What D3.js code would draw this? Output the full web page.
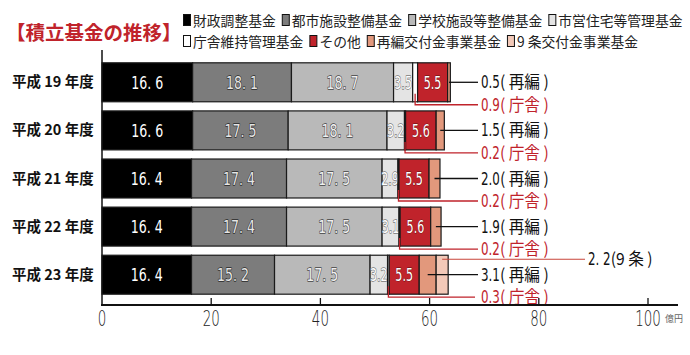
<!DOCTYPE html>
<html><head><meta charset="utf-8">
<script src="https://cdn.jsdelivr.net/npm/d3@7"></script>
<style>
body{margin:0;background:#fff;}
svg{display:block;}
.jp{font-family:"Noto Sans CJK JP","Noto Sans",sans-serif;}
.num{font-family:"DejaVu Sans","Liberation Sans",sans-serif;}
</style>
</head><body>
<script>
const years = ["平成 19 年度","平成 20 年度","平成 21 年度","平成 22 年度","平成 23 年度"];
const seriesNames = ["財政調整基金","都市施設整備基金","学校施設等整備基金","市営住宅等管理基金","庁舎維持管理基金","その他","再編交付金事業基金","9 条交付金事業基金"];
const zaisei = [16.6,16.6,16.4,16.4,16.4];
const toshi  = [18.1,17.5,17.4,17.4,15.2];
const gakko  = [18.7,18.1,17.5,17.5,17.5];
const shiei  = [3.5,3.2,2.9,3.1,3.2];
const chosha = [0.9,0.2,0.2,0.2,0.3];
const sonota = [5.5,5.6,5.5,5.6,5.5];
const saihen = [0.5,1.5,2.0,1.9,3.1];
const kyujo  = [0,0,0,0,2.2];
const xTicks = [0,20,40,60,80,100];

const series = [zaisei,toshi,gakko,shiei,chosha,sonota,saihen,kyujo];
const colors = ["#000000","#7c7c7c","#b9b9b9","#e4e4e4","#ffffff","#c0232b","#e2987c","#f3c9b8"];
const spaced = v=>v.toFixed(1).replace(".",". ");
const plain = v=>v.toFixed(1);
const labelFmt = [spaced,spaced,spaced,plain,null,plain,null,null];
const labelFill = ["#fff","#e6e6e6","#f0f0f0","#fff",null,"#fff",null,null];
const labelStroke = [null,"#2a2a2a","#444","#777",null,"#5a1010",null,null];

const W=690,H=355;
const svg = d3.select("body").append("svg").attr("width",W).attr("height",H);

const x = d3.scaleLinear().domain([0,100]).range([102,648]);
const y = d3.scaleBand().domain(years).range([58,299]).paddingInner(0.19).paddingOuter(0.1);

function cText(parent, tx, ty, str, opt){
  const g = parent.append("g").attr("transform",`translate(${tx},${ty}) scale(${opt.sx||1},1)`);
  const t = g.append("text").attr("class",opt.cls||"num").attr("x",0).attr("y",0)
    .attr("font-size",opt.size).attr("fill",opt.fill||"#111")
    .attr("text-anchor",opt.anchor||"start").text(str);
  if(opt.weight) t.attr("font-weight",opt.weight);
  if(opt.stroke) t.attr("stroke",opt.stroke).attr("stroke-width",opt.sw||1).attr("paint-order","stroke").attr("stroke-linejoin","round");
  return t.node().getComputedTextLength()*(opt.sx||1);
}
function richText(parent, tx, ty, parts, fill){
  let cx = tx;
  parts.forEach(p=>{ cx += cText(parent, cx, ty, p.t, Object.assign({fill}, p)); });
}

// Title
svg.append("text").attr("class","jp").attr("x",6).attr("y",40)
  .attr("font-size",19.5).attr("font-weight",700).attr("fill","#c0232b").text("【積立基金の推移】");

// Legend
const legRows = [[0,1,2,3],[4,5,6,7]];
const legY = [21,42];
legRows.forEach((row,ri)=>{
  let cx = 183;
  row.forEach(si=>{
    svg.append("rect").attr("x",cx+0.5).attr("y",legY[ri]-6.5).attr("width",7).attr("height",11)
      .attr("fill",colors[si]).attr("stroke","#111").attr("stroke-width",1);
    const t = svg.append("text").attr("class","jp").attr("x",cx+10).attr("y",legY[ri]+5)
      .attr("font-size",13.8).attr("fill","#222").text(seriesNames[si]);
    cx += 10 + t.node().getComputedTextLength() + 6;
  });
});

// Y axis line
svg.append("line").attr("x1",102).attr("x2",102).attr("y1",50).attr("y2",305)
  .attr("stroke","#111").attr("stroke-width",1.5);

// Bars
years.forEach((yr,i)=>{
  let acc = 0;
  const y0 = y(yr), bh = y.bandwidth();
  series.forEach((s,si)=>{
    const v = s[i];
    if(v<=0){return;}
    const x0 = x(acc), x1 = x(acc+v);
    svg.append("rect").attr("x",x0).attr("y",y0).attr("width",x1-x0).attr("height",bh)
      .attr("fill",colors[si]).attr("stroke","#1a1a1a").attr("stroke-width",1.2);
    if(labelFmt[si]){
      cText(svg,(x0+x1)/2,y0+bh/2+6.5,labelFmt[si](v),{
        size:18, sx: si<3?0.7:0.62, anchor:"middle", fill:labelFill[si],
        stroke:labelStroke[si], sw: si===5?0.8:1.4});
    }
    acc += v;
  });
  const before = (k)=>series.slice(0,k).reduce((a,s)=>a+s[i],0);
  const cy = y0+bh/2;
  const sx = x(before(6)+saihen[i]/2);
  svg.append("line").attr("x1",sx).attr("x2",478).attr("y1",cy).attr("y2",cy)
    .attr("stroke","#111").attr("stroke-width",1.3);
  richText(svg,481,cy+6,[
    {t:saihen[i].toFixed(1),size:18,sx:0.66},
    {t:"( 再編 )",size:16.5,sx:0.95,cls:"jp"}],"#111");
  const rx = x(before(4)+chosha[i]/2);
  const ry = y0+bh+3;
  svg.append("path").attr("d",`M${rx},${y0+bh-8}V${ry}H${i===4?475:478}`)
    .attr("fill","none").attr("stroke","#c0232b").attr("stroke-width",1.3);
  richText(svg,481,ry+6,[
    {t:chosha[i].toFixed(1),size:18,sx:0.66},
    {t:"( 庁舎 )",size:16.5,sx:0.95,cls:"jp"}],"#c0232b");
  if(kyujo[i]>0){
    const kx = x(before(7)+kyujo[i]/2);
    const ky = y0+4;
    svg.append("line").attr("x1",kx).attr("x2",585).attr("y1",ky).attr("y2",ky)
      .attr("stroke","#c8453a").attr("stroke-width",1.1);
    richText(svg,588,ky+6,[
      {t:spaced(kyujo[i]),size:18,sx:0.66},
      {t:"(9 条 )",size:16.5,sx:0.95,cls:"jp"}],"#111");
  }
});

// X axis
svg.append("line").attr("x1",101).attr("x2",678).attr("y1",305).attr("y2",305)
  .attr("stroke","#111").attr("stroke-width",1.8);
const ax = svg.append("g");
xTicks.forEach(t=>{
  if(t>0) ax.append("line").attr("x1",x(t)).attr("x2",x(t)).attr("y1",298).attr("y2",305)
    .attr("stroke","#111").attr("stroke-width",1.3);
  cText(ax,x(t),326,String(t),{size:21,sx:0.64,anchor:"middle",fill:"#222",weight:300});
});
svg.append("text").attr("class","jp").attr("x",x(100)+17).attr("y",322).attr("font-size",9)
  .attr("fill","#666").text("億円");

// Row labels
years.forEach(yr=>{
  svg.append("text").attr("class","jp").attr("x",12).attr("y",y(yr)+y.bandwidth()/2+5)
    .attr("font-size",14.5).attr("font-weight",600).attr("fill","#111").text(yr);
});
</script>
</body></html>
